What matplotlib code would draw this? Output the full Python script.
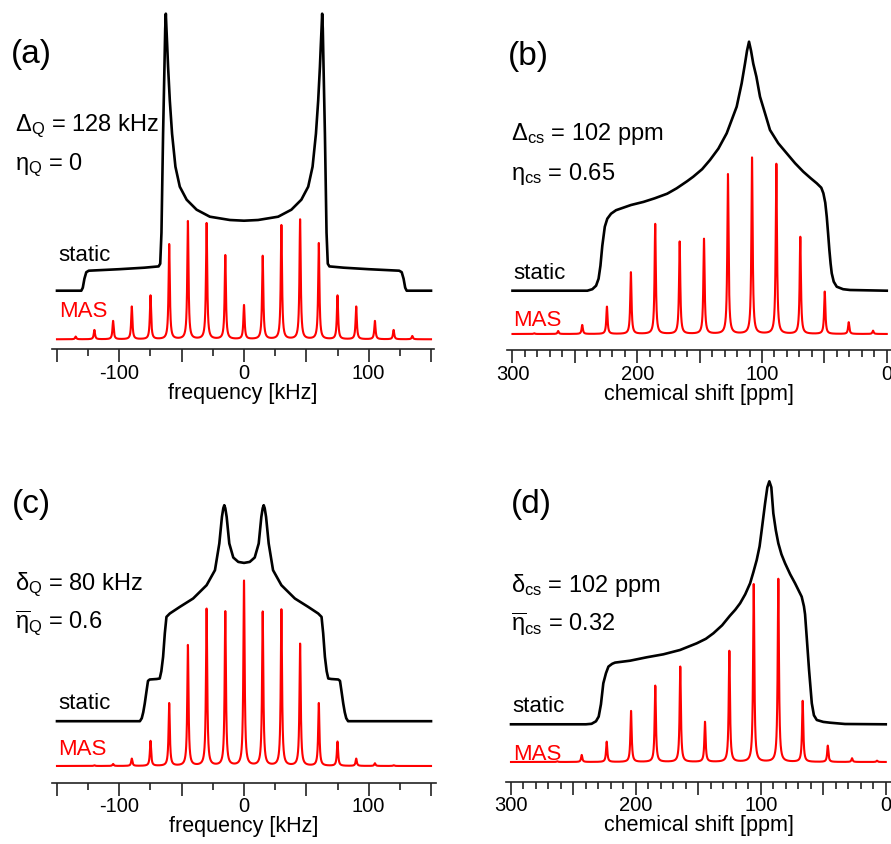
import numpy as np
import matplotlib
matplotlib.use("Agg")
from matplotlib import pyplot as plt
from matplotlib.ticker import MultipleLocator, FuncFormatter

plt.rcParams['font.family'] = 'Liberation Sans'
plt.rcParams['mathtext.fontset'] = 'custom'
plt.rcParams['mathtext.rm'] = 'Liberation Sans'
plt.rcParams['mathtext.it'] = 'Liberation Sans'
plt.rcParams['mathtext.bf'] = 'Liberation Sans:bold'
plt.rcParams['axes.unicode_minus'] = False

# ---- (a) quadrupolar, static + MAS (kHz) ----
a_static_x = [-150, -130.5, -129.3, -128, -126.5, -124.5, -100, -80, -68.5, -67.2, -66.2, -64.9, -63.8, -63.2,
              -62.7, -62.2, -61.6, -60.9, -59.5, -57.7, -55, -51.5, -46, -38, -27.4, -11.3, 0,
              11.3, 27.4, 38, 46, 51.5, 55, 57.7, 59.5, 60.9, 61.6, 62.2, 62.7, 63.2, 63.8, 64.9, 66.2,
              67.2, 68.5, 80, 100, 124.5, 126.5, 128, 129.3, 130.5, 150]
a_static_y = [0, 0, 3, 12, 18.5, 20, 21.5, 23, 24.3, 27, 58, 157, 224, 262,
              277, 262, 245, 224, 190, 157, 124, 104, 91, 81, 74, 70.7, 70,
              70.7, 74, 81, 91, 104, 124, 157, 190, 224, 245, 262, 277, 262, 224, 157, 58,
              27, 24.3, 23, 21.5, 20, 18.5, 12, 3, 0, 0]
a_mas_pos = [-135, -120, -105, -90, -75, -60, -45, -30, -15, 0, 15, 30, 45, 60, 75, 90, 105, 120, 135]
a_mas_int = [2.7, 9.3, 18.3, 32.7, 43.7, 95, 118, 116, 84, 34, 83.3, 114, 119.7, 96, 43.7, 32.7, 18.3, 9.3, 3.3]

# ---- (b) CSA, static + MAS (ppm) ----
b_static_x = [300, 240, 236, 233, 231, 229.5, 228, 226, 224, 221, 217, 205, 195, 186, 176, 168.4, 160, 155.1,
              148, 141.7, 135, 128.3, 120.3, 116.3, 113.6, 112, 110.4, 108.8, 107, 104.5, 101.6, 97, 93.6,
              87, 80.2, 73.5, 66.9, 61, 56.1, 52.5, 50.8, 49.3, 48.1, 47, 46, 45, 44.1, 42.5, 40.1, 35, 29.4, 0]
b_static_y = [0, 0, 1.5, 5, 12, 25, 45, 64, 72, 77, 80.5, 85.7, 88.8, 92.4, 97, 102.4, 109.5, 114,
              121.5, 130.7, 142, 157.4, 184, 207.4, 227.4, 240, 249, 240, 227, 214, 194, 175, 160.7,
              147.5, 137.4, 127.5, 119, 112.5, 107.4, 103, 97.4, 88, 74, 57, 40.7, 27, 17.4, 9, 4, 1.5, 0.7, 0]
b_mas_pos = [282.6, 263.4, 244.1, 224.3, 205.1, 185.6, 166, 146.5, 127.3, 108, 88.5, 69.3, 49.7, 30.5, 11]
b_mas_int = [0.7, 3, 9, 27.3, 61.7, 110, 92.3, 95, 159.7, 176.3, 170, 97, 42.3, 11.7, 3.3]

# ---- (c) quadrupolar with distribution (kHz) ----
c_static_x = [-150, -83.5, -82, -80.8, -79.6, -78.2, -77, -75.6, -70, -67.6, -66.3, -64.9, -63.5, -62.2,
              -59.5, -51.5, -40.8, -30, -23.3, -19.8, -17.7, -16.6, -15.8, -15, -13.9, -11.8, -8.6, -4.6, 0,
              4.6, 8.6, 11.8, 13.9, 15, 15.8, 16.6, 17.7, 19.8, 23.3, 30, 40.8, 51.5, 59.5, 62.2, 63.5,
              64.9, 66.3, 67.6, 70, 75.6, 77, 78.2, 79.6, 80.8, 82, 83.5, 150]
c_static_y = [0, 0, 3, 9, 17.7, 30, 40.3, 41.7, 42.2, 42.7, 50, 64.3, 88, 104.3,
              107.7, 114.3, 122.7, 136, 151, 177.7, 204.3, 213, 216, 213, 204.3, 177.7, 163.7, 159.3, 158.3,
              159.3, 163.7, 177.7, 204.3, 213, 216, 213, 204.3, 177.7, 151, 136, 122.7, 114.3, 107.7, 104.3, 88,
              64.3, 50, 42.7, 42.2, 41.7, 40.3, 30, 17.7, 9, 3, 0, 0]
c_mas_pos = [-120, -105, -90, -75, -60, -45, -30, -15, 0, 15, 30, 45, 60, 75, 90, 105, 120]
c_mas_int = [0.7, 2, 7.3, 25, 62.7, 120.7, 157, 154.3, 185, 154, 156.3, 122, 62.7, 24.3, 7.3, 2.7, 0.7]

# ---- (d) CSA with distribution (ppm) ----
d_static_x = [300, 240, 235.5, 232, 229.8, 228, 226.1, 224, 222, 219, 216.7, 204.7, 191.4, 178, 164.7, 151.3,
              144, 138, 131, 124.8, 120.5, 116.6, 112.5, 108.6, 106, 103.3, 101, 99.3, 96.6, 94.8, 93.2, 91.6,
              90, 88, 86, 83.5, 80.6, 76.5, 72.6, 67.3, 65.5, 64.6, 63.3, 61.4, 59.2, 57.5, 55.2, 50, 44.6, 32.6, 0]
d_static_y = [0, 0, 0.5, 3, 7.7, 20, 41, 51, 57.7, 60.5, 61.7, 63.6, 67, 70, 74.3, 81,
              85.5, 91, 99, 108.5, 114.5, 121, 130, 141, 152, 164.3, 178, 194.3, 221, 237, 243, 237,
              211, 194, 181, 170, 161, 150, 141, 127.6, 118, 110, 87.6, 54.3, 21, 9, 4.3, 2.4, 1.6, 0.3, 0]
d_mas_pos = [263, 243.4, 223.4, 203.9, 184.5, 164.5, 144.7, 125.2, 105.7, 86, 66.5, 46.4, 27, 7]
d_mas_int = [0.7, 7, 20.3, 51, 76.3, 95.3, 40, 111, 177.7, 183, 61, 16.3, 3.7, 1.3]

W, H = 891, 844


def px_axes(fig, left, right, top, bottom):
    return fig.add_axes([left / W, 1 - bottom / H, (right - left) / W, (bottom - top) / H])


def fig_text(fig, x, y, s, **kw):
    fig.text(x / W, 1 - y / H, s, **kw)


def mas_trace(xgrid, pos, inten, hw):
    # lorentzian sidebands
    y = np.zeros_like(xgrid)
    for p, h in zip(pos, inten):
        y += h * hw ** 2 / ((xgrid - p) ** 2 + hw ** 2)
    return y


def tick_fmt(v, p):
    v = round(v)
    return f"{v}" if v % 100 == 0 else ""


def panel(fig, box, xlim, xrange_, minor, xlabel, st_x, st_y, st_off, pos, inten, mas_off):
    left, right, top, bottom = box
    ax = px_axes(fig, left, right, top, bottom)
    ax.plot(st_x, np.array(st_y) + st_off, color='black', lw=1.9, solid_joinstyle='round')
    xg = np.linspace(xrange_[0], xrange_[1], 8000)
    ax.plot(xg, mas_trace(xg, pos, inten, 0.6) + mas_off, color='#ff0000', lw=1.5)
    ax.set_xlim(*xlim)
    ax.set_ylim(0, bottom - top)
    for s in ['left', 'right', 'top']:
        ax.spines[s].set_visible(False)
    ax.spines['bottom'].set_linewidth(1.2)
    ax.spines['bottom'].set_color('#222222')
    ax.set_yticks([])
    ax.xaxis.set_major_locator(MultipleLocator(50))
    ax.xaxis.set_minor_locator(MultipleLocator(minor))
    ax.xaxis.set_major_formatter(FuncFormatter(tick_fmt))
    ax.tick_params(axis='x', which='major', length=9, width=1.2, color='#222222', labelsize=14.5, pad=1.5)
    ax.tick_params(axis='x', which='minor', length=5, width=1.2, color='#222222')
    ax.set_xlabel(xlabel, fontsize=15.5, labelpad=0)
    ax.patch.set_visible(False)
    return ax


fig = plt.figure(figsize=(W / 100, H / 100), dpi=100)

panel(fig, (52, 434, 0, 349.3), (-154, 152.4), (-150, 150), 25, 'frequency [kHz]',
      a_static_x, a_static_y, 58.6, a_mas_pos, a_mas_int, 10)
panel(fig, (507.5, 891, 0, 350), (304, -3.4), (300, 0), 10, 'chemical shift [ppm]',
      b_static_x, b_static_y, 59.3, b_mas_pos, b_mas_int, 16)
panel(fig, (52, 436, 420, 782.7), (-154, 154), (-150, 150), 25, 'frequency [kHz]',
      c_static_x, c_static_y, 61.5, c_mas_pos, c_mas_int, 16.7)
panel(fig, (506, 891, 420, 781.7), (304, -4.2), (300, 0), 10, 'chemical shift [ppm]',
      d_static_x, d_static_y, 57.4, d_mas_pos, d_mas_int, 19.7)

# panel letters
fig_text(fig, 11, 54, '(a)', fontsize=24, va='center')
fig_text(fig, 508, 56, '(b)', fontsize=24, va='center')
fig_text(fig, 12, 505, '(c)', fontsize=24, va='center')
fig_text(fig, 511, 505, '(d)', fontsize=24, va='center')

# parameters
fig_text(fig, 15, 131, r'$\Delta_\mathrm{Q}$ = 128 kHz', fontsize=17, va='baseline')
fig_text(fig, 15, 170, r'$\eta_\mathrm{Q}$ = 0', fontsize=17, va='baseline')
fig_text(fig, 511, 140, r'$\Delta_\mathrm{cs}$ = 102 ppm', fontsize=17, va='baseline')
fig_text(fig, 511, 180, r'$\eta_\mathrm{cs}$ = 0.65', fontsize=17, va='baseline')
fig_text(fig, 15, 590, r'$\delta_\mathrm{Q}$ = 80 kHz', fontsize=17, va='baseline')
fig_text(fig, 15, 629, r'$\overline{\eta}_\mathrm{Q}$ = 0.6', fontsize=17, va='baseline')
fig_text(fig, 511, 592, r'$\delta_\mathrm{cs}$ = 102 ppm', fontsize=17, va='baseline')
fig_text(fig, 511, 631, r'$\overline{\eta}_\mathrm{cs}$ = 0.32', fontsize=17, va='baseline')

# trace labels
for x, y, s, c in [(58, 261, 'static', 'black'), (59, 317, 'MAS', '#ff0000'),
                   (513, 279, 'static', 'black'), (513, 326, 'MAS', '#ff0000'),
                   (58, 709, 'static', 'black'), (58, 755, 'MAS', '#ff0000'),
                   (512, 712, 'static', 'black'), (513, 760, 'MAS', '#ff0000')]:
    fig_text(fig, x, y, s, fontsize=16, color=c, va='baseline')

plt.savefig('out.png', dpi=100)
